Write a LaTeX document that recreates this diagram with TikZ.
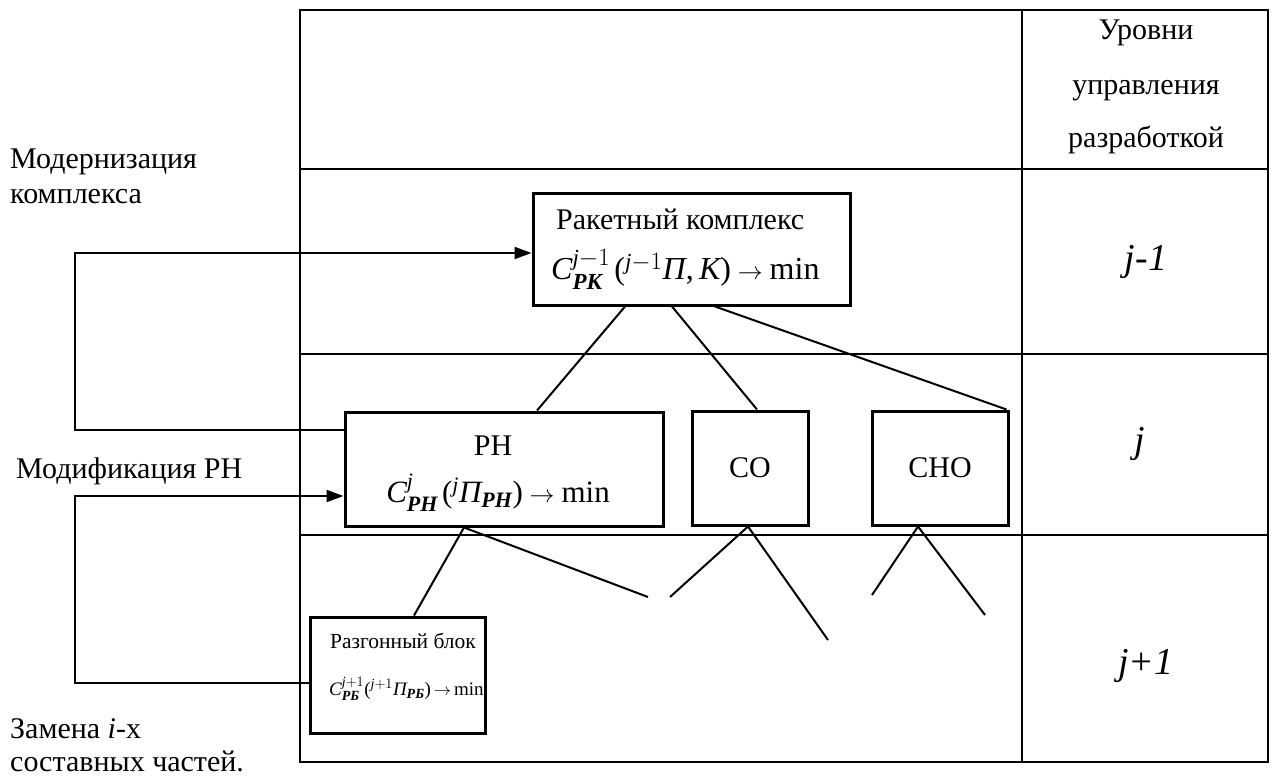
\documentclass[tikz,border=0pt]{standalone}
\usepackage{fontspec}
\usepackage{amsmath}
\setmainfont{Liberation Serif}
\usetikzlibrary{arrows.meta}
\DeclareMathSizes{32}{32}{23}{17}
\DeclareMathSizes{31}{31}{22}{16}
\DeclareMathSizes{19}{19}{14}{10}
\newcommand{\ti}[1]{\text{\itshape #1}}
\newcommand{\tbi}[1]{\text{\bfseries\itshape #1}}
\begin{document}
\begin{tikzpicture}[x=1pt,y=-1pt,
  tbl/.style={line width=2.5pt},
  boxn/.style={draw,line width=3pt,fill=white,inner sep=0pt},
  conn/.style={line width=2pt},
  arr/.style={line width=2pt,-{Triangle[length=17pt,width=12pt]}},
  lbl/.style={font=\fontsize{30}{34}\selectfont,inner sep=0pt},
  sml/.style={font=\fontsize{21.5}{26}\selectfont,inner sep=0pt},
  frm/.style={font=\fontsize{32}{36}\selectfont,inner sep=0pt},
  frmp/.style={font=\fontsize{31}{36}\selectfont,inner sep=0pt},
  frms/.style={font=\fontsize{19}{24}\selectfont,inner sep=0pt},
  lev/.style={font=\fontsize{38}{44}\selectfont\itshape,inner sep=0pt}]
\useasboundingbox (0,0) rectangle (1273,778);
% table
\draw[tbl] (300,10) rectangle (1268,762);
\draw[tbl] (1022,10) -- (1022,762);
\draw[tbl] (300,169) -- (1268,169);
\draw[tbl] (300,354) -- (1268,354);
\draw[tbl] (300,535) -- (1268,535);
% header
\node[lbl,anchor=base] (h1) at (1146,40) {Уровни};
\node[lbl,anchor=base] (h2) at (1146,95) {управления};
\node[lbl,anchor=base] (h3) at (1146,148) {разработкой};
\node[lev,anchor=base] (l1) at (1146,270) {j-1};
\node[lev,anchor=base] (l2) at (1140,452) {j};
\node[lev,anchor=base] (l3) at (1146,674) {j+1};
% left labels
\node[lbl,anchor=base west] (m1) at (10,168) {Модернизация};
\node[lbl,anchor=base west] (m2) at (10,203) {комплекса};
\node[lbl,anchor=base west] (m3) at (16,478) {Модификация РН};
\node[lbl,anchor=base west] (m4) at (10,738) {Замена \textit{i}-х};
\node[lbl,anchor=base west] (m5) at (10,771) {составных частей.};
% boxes
\node[boxn,minimum width=317pt,minimum height=112pt] (rk) at (691.5,249) {};
\node[lbl,anchor=base west] (rkt) at (556,229) {Ракетный комплекс};
\node[frm,anchor=base west] (rkf) at (551,279) {$\ti{C}^{\ti{j}-1}_{\tbi{РК}}\,\text{(}{}^{\ti{j}-1}\ti{П}\text{,\,}\ti{К}\text{)}\rightarrow\text{min}$};
\node[boxn,minimum width=318pt,minimum height=114pt] (ph) at (504,469) {};
\node[lbl,anchor=base] (pht) at (493,455) {РН};
\node[frmp,anchor=base] (phf) at (498,502) {$\ti{C}^{\ti{j}}_{\tbi{РН}}\,\text{(}{}^{\ti{j}}\ti{П}_{\tbi{РН}}\text{)}\rightarrow\text{min}$};
\node[boxn,minimum width=116pt,minimum height=114pt,font=\fontsize{30}{34}\selectfont] (co) at (750,468) {СО};
\node[boxn,minimum width=136pt,minimum height=114pt,font=\fontsize{30}{34}\selectfont] (cho) at (940,468) {СНО};
\node[boxn,minimum width=175pt,minimum height=116pt] (rb) at (397.5,675) {};
\node[sml,anchor=base west] (rbt) at (330,648) {Разгонный блок};
\node[frms,anchor=base west] (rbf) at (329,695) {$\ti{C}^{\ti{j}+1}_{\tbi{РБ}}\text{(}{}^{\ti{j}+1}\ti{П}_{\tbi{РБ}}\text{)}\,{\rightarrow}\,\text{min}$};
% tree lines
\draw[conn] ([xshift=-66.5pt]rk.south) -- ([xshift=33pt]ph.north);
\draw[conn] ([xshift=-19.5pt]rk.south) -- ([xshift=7pt]co.north);
\draw[conn] ([xshift=23.5pt]rk.south) -- ([xshift=-3pt]cho.north east);
\coordinate (f1) at (648,597);
\coordinate (f2) at (670,597);
\coordinate (f3) at (828,640);
\coordinate (f4) at (872,595);
\coordinate (f5) at (985,615);
\draw[conn] ([xshift=-40pt]ph.south) -- ([xshift=16.5pt]rb.north);
\draw[conn] ([xshift=-40pt]ph.south) -- (f1);
\draw[conn] (f2) -- ([xshift=-2pt]co.south) -- (f3);
\draw[conn] (f4) -- ([xshift=-22pt]cho.south) -- (f5);
% feedback arrows
\coordinate (c1) at (75,430);
\coordinate (c2) at (75,683);
\draw[arr] (ph.west |- c1) -- (c1) |- ([yshift=-4pt]rk.west);
\draw[arr] (rb.west |- c2) -- (c2) |- ([yshift=-27pt]ph.west);
\end{tikzpicture}
\end{document}
